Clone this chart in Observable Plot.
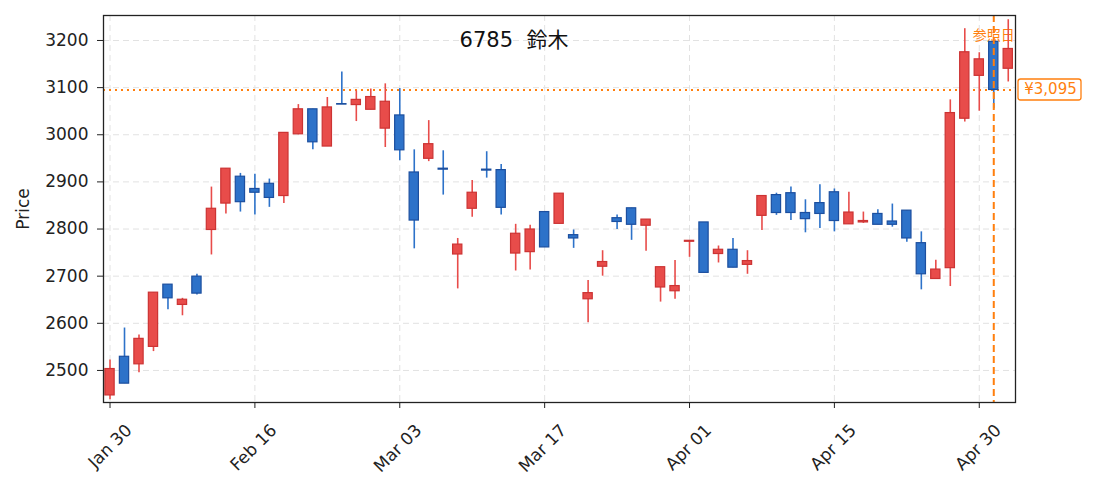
<!DOCTYPE html>
<html><head><meta charset="utf-8">
<script src="https://cdn.jsdelivr.net/npm/d3@7"></script>
<script src="https://cdn.jsdelivr.net/npm/@observablehq/plot@0.6"></script>
<style>body{margin:0;background:#fff;}</style>
</head><body><div id="chart"></div>
<script>
const openP  = [2447,2529,2513,2550,2682,2639,2699,2798,2854,2911,2885,2896,2870,3001,3054,2975,3065,3063,3053,3013,3041,2920,2949,2928,2746,2843,2926,2925,2748,2751,2836,2811,2787,2651,2720,2823,2844,2807,2676,2668,2773,2814,2747,2756,2724,2828,2872,2876,2834,2855,2878,2810,2814,2832,2816,2839,2770,2694,2717,3034,3125,3197,3140];
const highP  = [2522,2590,2575,2665,2682,2653,2704,2889,2928,2918,2916,2906,3004,3064,3054,3079,3133,3093,3097,3108,3098,2968,3030,2966,2780,2903,2964,2937,2810,2808,2836,2875,2798,2691,2754,2830,2844,2820,2719,2733,2775,2814,2764,2780,2754,2870,2876,2889,2862,2894,2885,2878,2836,2841,2853,2839,2794,2734,3074,3225,3174,3200,3244];
const lowP   = [2438,2472,2495,2540,2629,2616,2660,2745,2832,2836,2830,2846,2854,3000,2968,2975,3064,3028,3053,2973,2945,2758,2943,2872,2673,2825,2908,2830,2711,2713,2761,2811,2759,2601,2700,2799,2776,2753,2645,2651,2740,2707,2728,2718,2704,2797,2829,2818,2792,2801,2794,2810,2812,2809,2804,2772,2671,2694,2678,3027,3050,3055,3112];
const closeP = [2503,2472,2567,2665,2653,2650,2663,2843,2928,2857,2877,2866,3004,3054,2984,3058,3064,3074,3080,3070,2967,2818,2980,2926,2767,2877,2924,2845,2790,2799,2761,2875,2780,2664,2730,2815,2809,2820,2719,2679,2775,2707,2756,2718,2732,2870,2834,2834,2821,2832,2817,2835,2817,2809,2809,2780,2704,2714,3046,3175,3160,3095,3182];
const tickIdx = [0,10,20,30,40,50,60];
const tickLabels = ["Jan 30","Feb 16","Mar 03","Mar 17","Apr 01","Apr 15","Apr 30"];
const yTicks = [2500,2600,2700,2800,2900,3000,3100,3200];
const refIndex = 61;
const refPrice = 3095;
const refLabel = "参照日";
const priceLabel = "¥3,095";
const title = "6785  鈴木";

const UP_FILL = "#e84c4a", UP_EDGE = "#cc3333", UP_WICK = "#e84c4a";
const DN_FILL = "#2d72c9", DN_EDGE = "#1c4f9f", DN_WICK = "#2d72c9";
const ORANGE = "#ff7f0e";
const FONT = "'DejaVu Sans', 'Noto Sans CJK JP', sans-serif";

const data = openP.map((o, i) => ({i, open: o, high: highP[i], low: lowP[i], close: closeP[i], up: closeP[i] >= o}));
const half = 0.32;

const chart = Plot.plot({
  width: 1093, height: 490,
  marginLeft: 103, marginRight: 78, marginTop: 15, marginBottom: 88,
  style: {fontFamily: FONT, fontSize: "16px", background: "#fff", color: "#222"},
  x: {domain: [-0.45, 62.5]},
  y: {domain: [2432, 3253]},
  marks: [
    Plot.gridX(tickIdx, {stroke: "#e2e2e2", strokeOpacity: 1, strokeDasharray: "6,4", strokeWidth: 1}),
    Plot.gridY(yTicks, {stroke: "#e2e2e2", strokeOpacity: 1, strokeDasharray: "6,4", strokeWidth: 1}),
    Plot.ruleY([refPrice], {stroke: ORANGE, strokeWidth: 2, strokeDasharray: "2,4"}),
    Plot.text([refLabel], {x: () => refIndex, text: d => d, frameAnchor: "top", dy: 15, fill: ORANGE, fontSize: 14, fontFamily: "'Noto Sans CJK JP', sans-serif"}),
    Plot.ruleX(data, {x: "i", y1: "low", y2: "high", stroke: d => d.up ? UP_WICK : DN_WICK, strokeWidth: 1.6, clip: true}),
    Plot.rect(data, {x1: d => d.i - half, x2: d => d.i + half, y1: "open", y2: "close",
      fill: d => d.up ? UP_FILL : DN_FILL, stroke: d => d.up ? UP_EDGE : DN_EDGE, strokeWidth: 1.2}),
    Plot.ruleX([refIndex], {stroke: ORANGE, strokeWidth: 2, strokeDasharray: "7,4"}),
    Plot.frame({stroke: "#222", strokeWidth: 1.3}),
    Plot.axisY(yTicks, {tickSize: 6, tickPadding: 9, tickFormat: d => String(d), label: "Price", labelAnchor: "center", labelArrow: "none", labelOffset: 87, fontSize: 17}),
    Plot.axisX(tickIdx, {tickSize: 6, tickFormat: () => "", label: null}),
    Plot.axisX(tickIdx, {tickSize: 0, tickPadding: 9, tickRotate: -45, dx: 19, dy: 16, tickFormat: i => tickLabels[tickIdx.indexOf(i)], label: null, fontSize: 17})
  ]
});

document.getElementById("chart").appendChild(chart);

const svg = d3.select(chart);
const yPos = chart.scale("y").apply(refPrice);
const boxX = 1018, boxW = 63, boxH = 21;
svg.append("rect").attr("x", boxX).attr("y", yPos - boxH / 2).attr("width", boxW).attr("height", boxH)
  .attr("rx", 2.5).attr("fill", "white").attr("stroke", ORANGE).attr("stroke-width", 1.3);
svg.append("text").attr("x", boxX + boxW / 2 + 1).attr("y", yPos).attr("text-anchor", "middle")
  .attr("dominant-baseline", "central").attr("fill", ORANGE).attr("font-size", 15).attr("font-family", FONT).text(priceLabel);
svg.append("text").attr("x", 514).attr("y", 40).attr("text-anchor", "middle")
  .attr("dominant-baseline", "central").attr("fill", "#111").attr("font-size", 21).attr("font-family", FONT).text(title);
</script>
</body></html>
